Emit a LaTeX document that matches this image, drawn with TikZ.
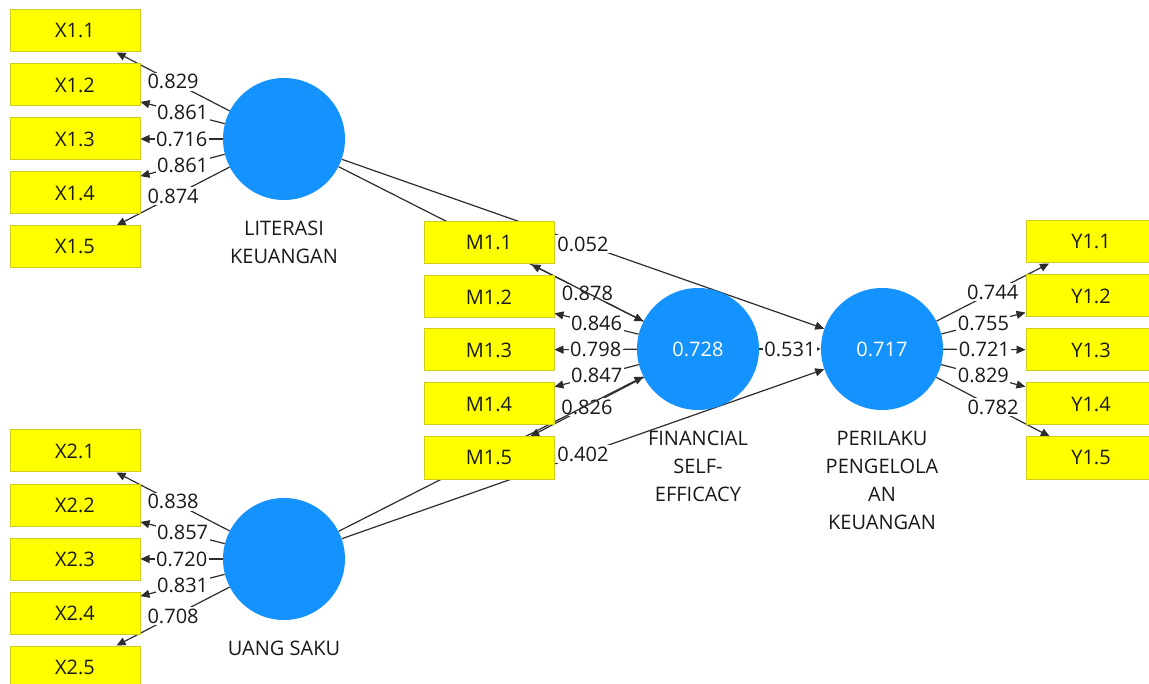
\documentclass[tikz,border=0pt]{standalone}
\usepackage{fontspec}
\setmainfont{Open Sans}
\usetikzlibrary{arrows.meta,backgrounds,positioning}
\pgfdeclarelayer{bottom}
\pgfsetlayers{bottom,background,main}
\definecolor{lvblue}{RGB}{20,147,255}
\definecolor{mvyellow}{RGB}{255,255,0}
\definecolor{mvborder}{RGB}{205,205,30}
\definecolor{edgecol}{RGB}{45,45,45}
\definecolor{txtcol}{RGB}{25,25,25}
\begin{document}
\begin{tikzpicture}[x=1pt,y=-1pt,
  mv/.style={draw=mvborder, fill=mvyellow, minimum width=130pt, minimum height=42pt, inner sep=0pt, font=\fontsize{20}{24}\selectfont, text=txtcol, line width=1pt},
  lv/.style={circle, fill=lvblue, minimum size=122pt, inner sep=0pt, font=\fontsize{20}{24}\selectfont, text=white},
  lvname/.style={inner sep=0pt, align=center, font=\fontsize{20}{28}\selectfont, text=txtcol},
  ld/.style={draw=edgecol, line width=1.2pt, -{Triangle[length=9pt,width=8pt]}},
  wt/.style={fill=white, inner sep=1.5pt, font=\fontsize{20}{24}\selectfont, text=txtcol}
]
\useasboundingbox (0,0) rectangle (1149,684);
\begin{pgfonlayer}{bottom}
  \fill[white] (0,0) rectangle (1149,684);
\end{pgfonlayer}

% latent variables
\node[lv] (LK) at (284,139) {};
\node[lv] (US) at (284,559) {};
\node[lv] (FSE) at (698,349) {0.728};
\node[lv] (PER) at (882,349) {0.717};

\node[lvname, below=21pt of LK] (LKn) {LITERASI\\KEUANGAN};
\node[lvname, below=21pt of US] (USn) {UANG SAKU};
\node[lvname, below=21pt of FSE] (FSEn) {FINANCIAL\\SELF-\\EFFICACY};
\node[lvname, below=21pt of PER] (PERn) {PERILAKU\\PENGELOLA\\AN\\KEUANGAN};

% indicators
\foreach \i/\y in {1/31,2/85,3/139,4/193,5/247}
  \node[mv] (X1\i) at (75,\y) {X1.\i};
\foreach \i/\y in {1/451,2/505,3/559,4/613,5/667}
  \node[mv] (X2\i) at (75,\y) {X2.\i};
\foreach \i/\y in {1/243,2/297,3/350,4/404,5/458}
  \node[mv] (M1\i) at (489,\y) {M1.\i};
\foreach \i/\y in {1/242,2/296,3/350,4/404,5/458}
  \node[mv] (Y1\i) at (1091,\y) {Y1.\i};

\begin{pgfonlayer}{background}
  \foreach \i/\v in {1/0.829,2/0.861,3/0.716,4/0.861,5/0.874}
    \draw[ld] (LK) -- node[wt]{\v} (X1\i);
  \foreach \i/\v in {1/0.838,2/0.857,3/0.720,4/0.831,5/0.708}
    \draw[ld] (US) -- node[wt]{\v} (X2\i);
  \foreach \i/\v in {1/0.878,2/0.846,3/0.798,4/0.847,5/0.826}
    \draw[ld] (FSE) -- node[wt]{\v} (M1\i);
  \foreach \i/\v in {1/0.744,2/0.755,3/0.721,4/0.829,5/0.782}
    \draw[ld] (PER) -- node[wt]{\v} (Y1\i);
  % structural paths
  \draw[ld] (LK) -- (FSE);
  \draw[ld] (US) -- (FSE);
  \draw[ld] (LK) -- node[wt]{0.052} (PER);
  \draw[ld] (US) -- node[wt]{0.402} (PER);
  \draw[ld] (FSE) -- node[wt]{0.531} (PER);
\end{pgfonlayer}
\end{tikzpicture}
\end{document}
